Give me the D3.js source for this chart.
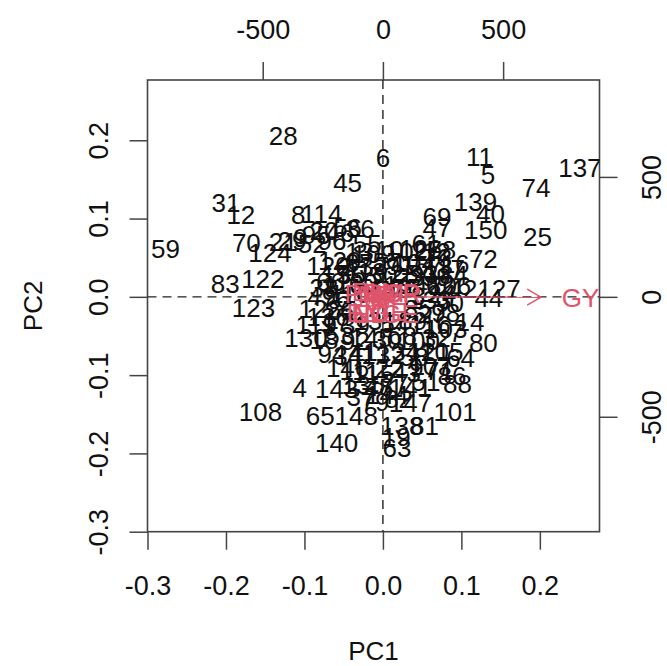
<!DOCTYPE html>
<html><head><meta charset="utf-8">
<script src="https://cdn.jsdelivr.net/npm/d3@7"></script>
<style>
body{margin:0;background:#fff;}
text{font-family:"Liberation Sans",Arial,Helvetica,sans-serif;}
</style></head>
<body><svg id="c" width="667" height="666"></svg>
<script>
// ---- observation scores (bottom/left axes) ----
const obsLabels = [28,6,11,5,137,74,45,31,12,139,40,150,69,47,25,8,114,59,70,124,83,122,123,72,16,127,44,62,42,98,14,7,80,64,88,86,101,108,4,143,65,148,140,138,81,63,19,130,49,66,129,29,52,96,36,21,
9,95,20,46,56,13,109,10,102,126,112,78,120,2,87,33,57,91,104,67,117,15,35,118,50,125,23,93,99,38,113,60,1,75,142,106,76,110,3,133,24,26,85,27,136,119,17,39,131,54,89,116,18,53,92,145,30,68,100,32,94,34,41,132,134,58,121,111,115,22,43,97,71,135,48,77,141,51,37,79,144,82,55,61,73,84,90,103,105,107,128,146,147,149];
const pc1 = [-0.127,0.000,0.123,0.134,0.251,0.195,-0.045,-0.200,-0.181,0.118,0.137,0.131,0.069,0.069,0.197,-0.108,-0.078,-0.277,-0.174,-0.144,-0.201,-0.153,-0.165,0.128,0.092,0.148,0.135,0.073,0.102,0.080,0.111,0.093,0.128,0.099,0.095,0.088,0.092,-0.156,-0.106,-0.059,-0.080,-0.034,-0.059,0.024,0.053,0.018,0.017,-0.098,-0.078,-0.067,-0.055,-0.116,-0.090,-0.065,-0.029,-0.127,
-0.105,-0.085,-0.075,-0.055,-0.045,-0.030,-0.012,0.008,0.030,0.048,0.060,0.075,-0.070,-0.048,-0.030,-0.012,0.005,0.022,0.040,0.058,0.078,-0.060,-0.040,-0.022,0.000,0.018,0.035,0.052,0.068,-0.075,-0.050,-0.025,0.010,0.030,0.048,0.085,-0.060,-0.042,0.045,0.060,0.075,-0.055,0.045,0.062,-0.070,-0.085,-0.060,-0.035,-0.010,0.015,0.038,0.060,-0.075,-0.055,-0.035,-0.015,0.005,0.025,0.045,0.068,-0.065,-0.045,-0.025,0.000,0.020,0.040,0.058,-0.030,-0.012,0.008,0.030,0.052,0.072,-0.025,-0.005,0.015,0.035,0.055,-0.028,-0.010,0.005,0.020,-0.020,0.055,0.070,0.090,0.085,0.080,0.075,0.060,-0.080,-0.045,0.035,0.010];
const pc2 = [0.206,0.178,0.179,0.156,0.165,0.140,0.146,0.120,0.105,0.121,0.106,0.086,0.103,0.088,0.077,0.105,0.106,0.061,0.069,0.057,0.017,0.023,-0.014,0.049,0.042,0.010,-0.001,0.015,0.011,-0.020,-0.032,-0.046,-0.059,-0.078,-0.111,-0.101,-0.146,-0.146,-0.116,-0.117,-0.152,-0.152,-0.186,-0.165,-0.165,-0.193,-0.179,-0.052,0.000,0.019,0.046,0.072,0.068,0.072,0.087,0.070,
0.076,0.080,0.085,0.082,0.088,0.058,0.055,0.060,0.058,0.062,0.058,0.060,0.040,0.038,0.044,0.040,0.045,0.040,0.044,0.040,0.036,0.030,0.028,0.032,0.027,0.030,0.026,0.030,0.026,0.012,0.016,0.018,0.015,0.012,0.016,0.014,-0.002,0.004,0.002,-0.004,0.004,-0.018,-0.015,-0.022,-0.025,-0.035,-0.032,-0.036,-0.030,-0.034,-0.030,-0.036,-0.055,-0.050,-0.056,-0.052,-0.055,-0.050,-0.056,-0.052,-0.072,-0.075,-0.070,-0.074,-0.070,-0.076,-0.070,-0.094,-0.098,-0.092,-0.097,-0.090,-0.094,-0.112,-0.115,-0.110,-0.116,-0.108,-0.128,-0.134,-0.125,-0.130,0.068,0.068,0.050,0.028,-0.008,-0.040,-0.070,-0.088,-0.015,-0.090,-0.135,0.010];

// ---- variable loadings (top/right axes) ----
const varLabels = ["GY","PH","EH","NR","DM","NGR","CP","EL","ED","NGE","WGE"];
const load1 = [822,-85,-55,-25,5,40,78,-85,-50,-15,20];
const load2 = [-2,14,20,10,16,12,18,-66,-70,-62,-70];

// ---- tick values ----
const xTicks = [-0.3,-0.2,-0.1,0.0,0.1,0.2];
const yTicks = [-0.3,-0.2,-0.1,0.0,0.1,0.2];
const topTicks = [-500,0,500];
const rightTicks = [-500,0,500];

const svg = d3.select("#c");
const L=147.5, R=599.5, T=80, B=531.7;
const lim = [-0.3, 0.276];
const k = 3264;
const x = d3.scaleLinear().domain(lim).range([L,R]);
const y = d3.scaleLinear().domain([-0.3,0.277]).range([B,T]);
const x2 = d3.scaleLinear().domain([lim[0]*k, lim[1]*k]).range([L,R]);
const y2 = d3.scaleLinear().domain([-0.3*k, 0.277*k]).range([B,T]);

const lineCol = "#444", txtCol = "#111", red = "#DF536B";
const fs = 27, fsT = 26, fsL = 26;
const fmt = v => d3.format(".1f")(v).replace("\u2212","-");
const fmt0 = v => d3.format("d")(v).replace("\u2212","-");

svg.append("defs").append("clipPath").attr("id","clip")
  .append("rect").attr("x",L).attr("y",T).attr("width",R-L).attr("height",B-T);

function style(g){
  g.select(".domain").remove();
  g.selectAll(".tick line").attr("stroke",lineCol).attr("stroke-width",1.5);
  g.selectAll(".tick text").attr("fill",txtCol).style("font-size",fs+"px")
    .style("font-family",'"Liberation Sans",Arial,sans-serif');
}
// bottom
svg.append("g").attr("transform",`translate(0,${B})`)
  .call(d3.axisBottom(x).tickValues(xTicks).tickFormat(fmt).tickSize(18))
  .call(style)
  .call(g=>g.selectAll(".tick text").attr("y",63).attr("dy",0));
// left
svg.append("g").attr("transform",`translate(${L},0)`)
  .call(d3.axisLeft(y).tickValues(yTicks).tickFormat(fmt).tickSize(18))
  .call(style)
  .call(g=>g.selectAll(".tick text").attr("x",0).attr("y",-39.5).attr("dy",0)
     .attr("text-anchor","middle").attr("transform","rotate(-90)"));
// top
svg.append("g").attr("transform",`translate(0,${T})`)
  .call(d3.axisTop(x2).tickValues(topTicks).tickFormat(fmt0).tickSize(18))
  .call(style)
  .call(g=>g.selectAll(".tick text").attr("y",-41).attr("dy",0));
// right
svg.append("g").attr("transform",`translate(${R},0)`)
  .call(d3.axisRight(y2).tickValues(rightTicks).tickFormat(fmt0).tickSize(18))
  .call(style)
  .call(g=>g.selectAll(".tick text").attr("x",0).attr("y",61.5).attr("dy",0)
     .attr("text-anchor","middle").attr("transform","rotate(-90)"));

// box
svg.append("rect").attr("x",L).attr("y",T).attr("width",R-L).attr("height",B-T)
  .attr("fill","none").attr("stroke",lineCol).attr("stroke-width",1.6);

// axis titles
svg.append("text").attr("x",(L+R)/2).attr("y",660).attr("text-anchor","middle")
  .attr("fill",txtCol).style("font-size",fsT+"px").text("PC1");
svg.append("text").attr("transform",`translate(42,${(T+B)/2}) rotate(-90)`).attr("text-anchor","middle")
  .attr("fill",txtCol).style("font-size",fsT+"px").text("PC2");

const plot = svg.append("g").attr("clip-path","url(#clip)");

// observation labels
plot.selectAll("text.obs").data(obsLabels.map((l,i)=>({l,a:pc1[i],b:pc2[i]})))
  .join("text").attr("class","obs")
  .attr("x",d=>x(d.a)).attr("y",d=>y(d.b)).attr("dy","0.36em")
  .attr("text-anchor","middle").attr("fill",txtCol).style("font-size",fsL+"px")
  .text(d=>d.l);

// reference dashed lines at 0 (secondary axes)
plot.append("line").attr("x1",L).attr("x2",R).attr("y1",y2(0)).attr("y2",y2(0))
  .attr("stroke","#222").attr("stroke-width",1.4).attr("stroke-dasharray","9,6");
plot.append("line").attr("x1",x2(0)).attr("x2",x2(0)).attr("y1",T).attr("y2",B)
  .attr("stroke","#222").attr("stroke-width",1.4).attr("stroke-dasharray","9,6");

// variable arrows and labels
const vars = varLabels.map((l,i)=>({l,a:load1[i],b:load2[i]}));
const ah = 16, ang = Math.PI/6;
vars.forEach(d=>{
  const x0=x2(0), y0=y2(0), x1=x2(d.a*0.8), y1=y2(d.b*0.8);
  plot.append("line").attr("x1",x0).attr("y1",y0).attr("x2",x1).attr("y2",y1)
    .attr("stroke",red).attr("stroke-width",1.4);
  const th = Math.atan2(y1-y0, x1-x0);
  const p = [[x1-ah*Math.cos(th-ang), y1-ah*Math.sin(th-ang)],[x1,y1],[x1-ah*Math.cos(th+ang), y1-ah*Math.sin(th+ang)]];
  plot.append("path").attr("d",d3.line()(p)).attr("fill","none").attr("stroke",red).attr("stroke-width",1.4);
});
plot.selectAll("text.var").data(vars).join("text").attr("class","var")
  .attr("x",d=>x2(d.a)).attr("y",d=>y2(d.b)).attr("dy","0.36em")
  .attr("text-anchor","middle").attr("fill",red).style("font-size",fsL+"px")
  .text(d=>d.l);
</script></body></html>
